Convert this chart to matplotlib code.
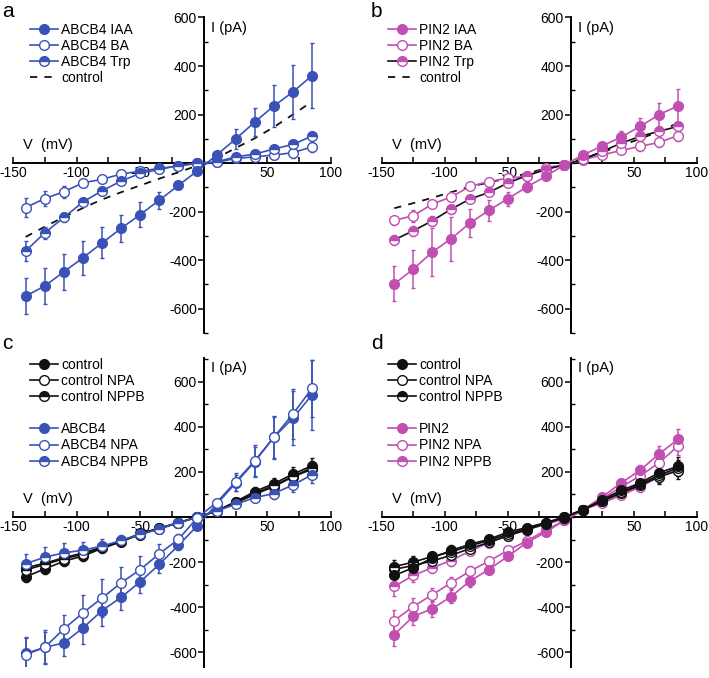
import matplotlib
matplotlib.use("Agg")
import matplotlib.pyplot as plt
from matplotlib.lines import Line2D
from matplotlib.ticker import MultipleLocator, FixedLocator
import numpy as np

plt.rcParams['font.family'] = ['Liberation Sans', 'DejaVu Sans']
plt.rcParams['axes.unicode_minus'] = False

BLUE = '#3a52b6'
MAG = '#c14fb1'
BLACK = '#111111'

V = [-140, -125, -110, -95, -80, -65, -50, -35, -20, -5, 10, 25, 40, 55, 70, 85]

# Panel a
a_iaa = [-548, -506, -448, -390, -329, -269, -212, -153, -92, -32, 33, 99, 169, 235, 293, 360]
a_iaa_err = [75, 75, 74, 71, 64, 56, 50, 36, 12, 8, 10, 40, 58, 88, 110, 135]
a_ba = [-183, -146, -118, -81, -67, -45, -33, -22, -12, -1, 3, 19, 26, 33, 43, 67]
a_ba_err = [38, 30, 25, 15, 12, 12, 12, 10, 8, 5, 8, 10, 12, 18, 20, 20]
a_trp = [-362, -287, -224, -160, -114, -74, -42, -26, -10, 0, 5, 26, 37, 58, 77, 111]
a_trp_err = [40, 25, 20, 15, 12, 10, 10, 8, 6, 5, 6, 8, 10, 12, 12, 12]
a_ctrl = [-304, -262, -222, -185, -150, -120, -92, -64, -38, -10, 20, 62, 102, 148, 200, 253]

# Panel b
b_iaa = [-498, -437, -367, -312, -247, -195, -147, -99, -55, -7, 34, 71, 107, 151, 199, 236]
b_iaa_err = [72, 78, 98, 90, 58, 45, 30, 20, 10, 6, 8, 12, 25, 35, 47, 68]
b_ba = [-236, -217, -169, -140, -96, -76, -62, -55, -21, -7, 14, 34, 52, 69, 85, 113]
b_ba_err = [20, 25, 15, 15, 10, 10, 10, 10, 8, 5, 6, 10, 15, 18, 20, 20]
b_trp = [-316, -279, -238, -190, -148, -121, -82, -52, -27, -7, 16, 48, 82, 110, 131, 151]
b_trp_err = [20, 20, 20, 18, 15, 12, 10, 8, 6, 5, 6, 8, 10, 12, 15, 15]
b_ctrl = [-186, -165, -143, -120, -97, -80, -62, -43, -22, -3, 18, 45, 72, 100, 130, 165]

# Panel c
c_ctrl = [-265, -230, -196, -173, -139, -110, -73, -50, -25, 0, 27, 68, 113, 148, 190, 227]
c_ctrl_err = [25, 22, 20, 20, 18, 15, 12, 10, 8, 5, 8, 12, 18, 25, 30, 35]
c_ctrl_npa = [-225, -205, -180, -160, -133, -108, -78, -52, -26, 0, 25, 62, 100, 135, 178, 212]
c_ctrl_npa_err = [25, 22, 20, 20, 18, 15, 12, 10, 8, 5, 8, 12, 18, 22, 28, 32]
c_ctrl_nppb = [-235, -210, -185, -165, -135, -105, -75, -50, -25, 0, 26, 65, 105, 140, 180, 218]
c_ctrl_nppb_err = [25, 22, 20, 20, 18, 15, 12, 10, 8, 5, 8, 12, 18, 22, 28, 32]
c_abcb4 = [-605, -578, -558, -492, -415, -356, -287, -210, -126, -38, 56, 150, 245, 353, 438, 541]
c_abcb4_err = [75, 75, 60, 70, 70, 55, 50, 40, 20, 10, 12, 35, 65, 90, 120, 155]
c_abcb4_npa = [-610, -578, -496, -425, -359, -292, -233, -163, -99, -3, 64, 156, 249, 353, 456, 570]
c_abcb4_npa_err = [75, 70, 60, 80, 85, 70, 60, 45, 25, 10, 15, 40, 70, 95, 110, 125]
c_abcb4_nppb = [-207, -178, -159, -147, -129, -104, -77, -52, -25, 0, 27, 56, 86, 104, 142, 187]
c_abcb4_nppb_err = [45, 45, 45, 35, 30, 25, 20, 15, 10, 5, 8, 12, 18, 25, 30, 35]

# Panel d
d_ctrl = [-259, -225, -182, -148, -121, -99, -67, -47, -25, 0, 33, 77, 118, 151, 196, 225]
d_ctrl_err = [30, 28, 25, 22, 18, 15, 12, 10, 8, 5, 8, 12, 18, 25, 35, 40]
d_ctrl_npa = [-232, -215, -195, -170, -140, -113, -83, -57, -30, -3, 33, 70, 105, 140, 178, 205]
d_ctrl_npa_err = [28, 25, 22, 20, 18, 15, 12, 10, 8, 5, 8, 12, 18, 22, 30, 35]
d_ctrl_nppb = [-220, -200, -175, -155, -128, -104, -76, -52, -28, 0, 33, 72, 110, 145, 185, 218]
d_ctrl_nppb_err = [28, 25, 22, 20, 18, 15, 12, 10, 8, 5, 8, 12, 18, 22, 30, 35]
d_pin2 = [-521, -441, -407, -353, -284, -233, -175, -114, -68, -15, 33, 89, 151, 207, 279, 344]
d_pin2_err = [50, 40, 35, 30, 25, 20, 15, 12, 10, 6, 8, 12, 18, 25, 35, 45]
d_pin2_npa = [-459, -397, -345, -292, -240, -196, -148, -107, -59, -15, 30, 81, 133, 182, 240, 314]
d_pin2_npa_err = [45, 38, 32, 28, 22, 18, 14, 12, 10, 6, 8, 12, 18, 22, 30, 40]
d_pin2_nppb = [-308, -259, -225, -193, -151, -114, -84, -56, -33, -7, 33, 62, 96, 133, 178, 210]
d_pin2_nppb_err = [40, 30, 25, 22, 18, 15, 12, 10, 8, 5, 8, 10, 15, 20, 25, 30]

W, H = 709, 678
fig = plt.figure(figsize=(W / 100, H / 100), dpi=100)


def px_axes(x0, x1, ytop, ybot):
    return fig.add_axes([x0 / W, 1 - ybot / H, (x1 - x0) / W, (ybot - ytop) / H])


def style_axes(ax, ylim, vlabel_y):
    ax.set_xlim(-150, 100)
    ax.set_ylim(*ylim)
    for s in ['top', 'right']:
        ax.spines[s].set_visible(False)
    ax.spines['left'].set_position(('data', 0))
    ax.spines['bottom'].set_position(('data', 0))
    ax.spines['left'].set_linewidth(1.4)
    ax.spines['bottom'].set_linewidth(1.4)
    ax.spines['left'].set_zorder(1)
    ax.spines['bottom'].set_zorder(1)
    ax.xaxis.set_major_locator(FixedLocator([-150, -100, -50, 50, 100]))
    ax.xaxis.set_minor_locator(FixedLocator([-125, -75, -25, 0, 25, 75]))
    ax.yaxis.set_major_locator(FixedLocator([-600, -400, -200, 200, 400, 600]))
    ax.yaxis.set_minor_locator(MultipleLocator(100))
    ax.tick_params(axis='x', which='both', direction='in', length=4, width=1.1, labelsize=10, pad=2)
    ax.tick_params(axis='y', which='major', direction='out', length=4, width=1.1, labelsize=10, pad=1)
    ax.tick_params(axis='y', which='minor', direction='in', length=3, width=1.0)
    ax.set_xticklabels(['-150', '-100', '-50', '50', '100'])
    ax.set_yticklabels(['-600', '-400', '-200', '200', '400', '600'])
    ax.patch.set_alpha(0)
    ax.text(-142, vlabel_y, 'V  (mV)', fontsize=10.5, ha='left', va='bottom')
    ax.text(6, ylim[1] - 15, 'I (pA)', fontsize=10.5, ha='left', va='top')


def series(ax, y, err, color, kind, linecolor=None, ls='-', z=3):
    lc = linecolor if linecolor else color
    kw = dict(marker='o', markersize=7, markeredgewidth=1.0, markeredgecolor=color)
    if kind == 'filled':
        kw.update(markerfacecolor=color)
    elif kind == 'open':
        kw.update(markerfacecolor='white')
    else:
        kw.update(markerfacecolor=color, fillstyle='top', markerfacecoloralt='white')
    return ax.errorbar(V, y, yerr=err, color=lc, ecolor=color, elinewidth=1.1,
                       capsize=1.5, capthick=1.1, linewidth=1.2, zorder=z, **kw)


def handle(color, kind, linecolor=None, label=''):
    lc = linecolor if linecolor else color
    kw = dict(marker='o', markersize=7, markeredgewidth=1.0, markeredgecolor=color, color=lc, linewidth=1.2)
    if kind == 'filled':
        kw.update(markerfacecolor=color)
    elif kind == 'open':
        kw.update(markerfacecolor='white')
    else:
        kw.update(markerfacecolor=color, fillstyle='top', markerfacecoloralt='white')
    return Line2D([], [], label=label, **kw)


def legend(ax, handles, fx, fy):
    ax.legend(handles=handles, loc='upper left', bbox_to_anchor=(fx, fy), frameon=False,
              fontsize=10, handlelength=2.0, handletextpad=0.25, labelspacing=0.15,
              borderaxespad=0.0, borderpad=0.0)


# ---- Panel a
ax = px_axes(13, 331, 17, 333)
style_axes(ax, (-700, 602), 45)
ax.plot(V, a_ctrl, color=BLACK, ls=(0, (4, 4)), lw=1.3, zorder=2)
series(ax, a_ba, a_ba_err, BLUE, 'open')
series(ax, a_trp, a_trp_err, BLUE, 'half')
series(ax, a_iaa, a_iaa_err, BLUE, 'filled')
legend(ax, [handle(BLUE, 'filled', label='ABCB4 IAA'), handle(BLUE, 'open', label='ABCB4 BA'),
            handle(BLUE, 'half', label='ABCB4 Trp'),
            Line2D([], [], color=BLACK, ls=(0, (4, 4)), lw=1.3, label='control')], 0.053, 0.981)

# ---- Panel b
ax = px_axes(381.7, 696.7, 17, 333)
style_axes(ax, (-700, 602), 45)
ax.plot(V, b_ctrl, color=BLACK, ls=(0, (4, 4)), lw=1.3, zorder=2)
series(ax, b_ba, b_ba_err, MAG, 'open')
series(ax, b_trp, b_trp_err, MAG, 'half', linecolor=BLACK)
series(ax, b_iaa, b_iaa_err, MAG, 'filled')
legend(ax, [handle(MAG, 'filled', label='PIN2 IAA'), handle(MAG, 'open', label='PIN2 BA'),
            handle(MAG, 'half', linecolor=BLACK, label='PIN2 Trp'),
            Line2D([], [], color=BLACK, ls=(0, (4, 4)), lw=1.3, label='control')], 0.02, 0.981)

blank = Line2D([], [], color='none', label=' ')

# ---- Panel c
ax = px_axes(13, 331, 358, 667)
style_axes(ax, (-665, 705), 50)
series(ax, c_ctrl, c_ctrl_err, BLACK, 'filled')
series(ax, c_ctrl_npa, c_ctrl_npa_err, BLACK, 'open')
series(ax, c_ctrl_nppb, c_ctrl_nppb_err, BLACK, 'half')
series(ax, c_abcb4_nppb, c_abcb4_nppb_err, BLUE, 'half')
series(ax, c_abcb4, c_abcb4_err, BLUE, 'filled')
series(ax, c_abcb4_npa, c_abcb4_npa_err, BLUE, 'open')
legend(ax, [handle(BLACK, 'filled', label='control'), handle(BLACK, 'open', label='control NPA'),
            handle(BLACK, 'half', label='control NPPB'), blank,
            handle(BLUE, 'filled', label='ABCB4'), handle(BLUE, 'open', label='ABCB4 NPA'),
            handle(BLUE, 'half', label='ABCB4 NPPB')], 0.053, 1.0)

# ---- Panel d
ax = px_axes(381.7, 696.7, 358, 667)
style_axes(ax, (-665, 705), 50)
series(ax, d_pin2_nppb, d_pin2_nppb_err, MAG, 'half')
series(ax, d_pin2_npa, d_pin2_npa_err, MAG, 'open')
series(ax, d_pin2, d_pin2_err, MAG, 'filled')
series(ax, d_ctrl_npa, d_ctrl_npa_err, BLACK, 'open')
series(ax, d_ctrl_nppb, d_ctrl_nppb_err, BLACK, 'half')
series(ax, d_ctrl, d_ctrl_err, BLACK, 'filled')
legend(ax, [handle(BLACK, 'filled', label='control'), handle(BLACK, 'open', label='control NPA'),
            handle(BLACK, 'half', label='control NPPB'), blank,
            handle(MAG, 'filled', label='PIN2'), handle(MAG, 'open', label='PIN2 NPA'),
            handle(MAG, 'half', label='PIN2 NPPB')], 0.02, 1.0)

# panel letters
for lab, x, y in [('a', 2, 2), ('b', 371, 2), ('c', 2, 334), ('d', 371, 334)]:
    fig.text(x / W, 1 - y / H, lab, fontsize=15, ha='left', va='top')

fig.savefig('out.png', dpi=100)
